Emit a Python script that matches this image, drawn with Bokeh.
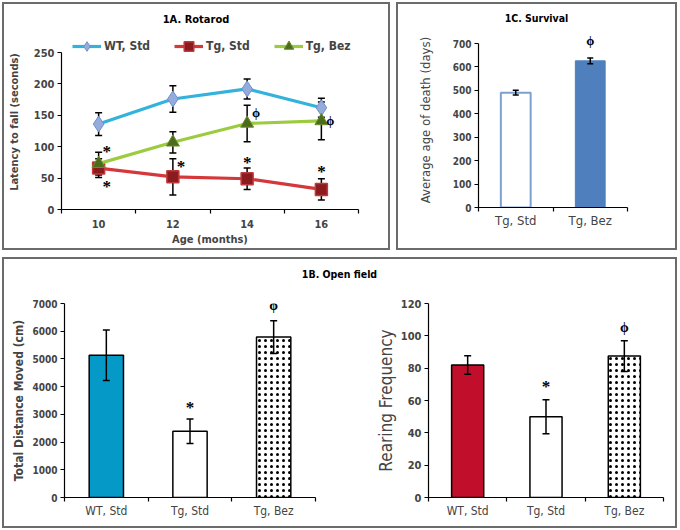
from bokeh.plotting import figure
from bokeh.models import (ColumnDataSource, Whisker, TeeHead, Legend, LegendItem,
                          FixedTicker, Range1d, LabelSet, Div)
from bokeh.layouts import row, column
from bokeh.embed import file_html
from bokeh.resources import INLINE

FONT = "DejaVu Sans Condensed, Liberation Sans, sans-serif"

# ---------------- data ----------------
# 1A Rotarod
ages = [10, 12, 14, 16]
wt_std = [136, 176, 192, 162]
wt_std_err = [18, 21, 16, 15]
tg_std = [66, 52, 49, 32]
tg_std_err = [15, 29, 17, 17]
tg_bez = [73, 107, 137, 141]
tg_bez_err = [18, 17, 29, 30]
rot_y_ticks = [0, 50, 100, 150, 200, 250]
rot_star_x = [10, 10, 12, 14, 16]
rot_star_y = [99, 43, 75, 81, 67]
rot_phi_x = [14, 16]
rot_phi_y = [155, 141]

# 1C Survival
surv_groups = ["Tg, Std", "Tg, Bez"]
surv_days = [490, 626]
surv_err = [10, 12]
surv_y_ticks = [0, 100, 200, 300, 400, 500, 600, 700]
surv_phi_y = [713]

# 1B Open field
of_groups = ["WT, Std", "Tg, Std", "Tg, Bez"]
dist = [5130, 2390, 5790]
dist_err = [910, 440, 590]
dist_y_ticks = [0, 1000, 2000, 3000, 4000, 5000, 6000, 7000]
dist_star_y = [3390]
dist_phi_y = [6940]
rearing = [82, 50, 87.5]
rearing_err = [5.7, 10.5, 9.5]
rear_y_ticks = [0, 20, 40, 60, 80, 100, 120]
rear_star_y = [71]
rear_phi_y = [105]

PHI = "\u03d5"
BORDER = {"border": "2px solid #6b6b6b"}


def style_axes(p, ylabel, ylabel_size="13px", ylabel_bold=True):
    for ax in (p.xaxis[0], p.yaxis[0]):
        ax.axis_line_color = "black"
        ax.axis_line_width = 1.2
        ax.major_label_text_font = FONT
        ax.axis_label_text_font = FONT
    p.yaxis.major_label_text_font_size = "11px"
    p.yaxis.major_label_text_font_style = "bold"
    p.yaxis.major_tick_in = 0
    p.yaxis.major_tick_out = 4
    p.yaxis.major_tick_line_width = 1.2
    p.yaxis.minor_tick_line_color = None
    p.yaxis.axis_label = ylabel
    p.yaxis.axis_label_text_font_size = ylabel_size
    p.yaxis.axis_label_text_font_style = "bold" if ylabel_bold else "normal"
    p.yaxis.major_label_standoff = 3
    p.xgrid.visible = False
    p.ygrid.visible = False
    p.outline_line_color = None
    p.background_fill_color = "white"
    p.border_fill_color = "white"


def cat_xaxis(p, labels, size="13px", bold=False, standoff=6):
    n = len(labels)
    centers = [i + 0.5 for i in range(n)]
    p.xaxis.ticker = FixedTicker(ticks=centers, minor_ticks=list(range(n + 1)))
    p.xaxis.major_label_overrides = {c: l for c, l in zip(centers, labels)}
    p.xaxis.major_tick_line_color = None
    p.xaxis.major_tick_in = 0
    p.xaxis.major_tick_out = 0
    p.xaxis.minor_tick_in = 0
    p.xaxis.minor_tick_out = 4
    p.xaxis.minor_tick_line_width = 1.2
    p.xaxis.major_label_text_font_size = size
    p.xaxis.major_label_text_font_style = "bold" if bold else "normal"
    p.xaxis.major_label_standoff = standoff
    return centers


def add_whisker(p, x, y, err, level="overlay", size=7):
    src = ColumnDataSource(dict(x=x, upper=[a + b for a, b in zip(y, err)],
                                lower=[a - b for a, b in zip(y, err)]))
    w = Whisker(source=src, base="x", upper="upper", lower="lower",
                line_color="black", line_width=1.5, level=level,
                upper_head=TeeHead(size=size, line_width=1.5, line_color="black"),
                lower_head=TeeHead(size=size, line_width=1.5, line_color="black"))
    p.add_layout(w)


def add_marks(p, x, y, text, size, x_offset=0, y_offset=0):
    src = ColumnDataSource(dict(x=x, y=y, t=[text] * len(x)))
    p.add_layout(LabelSet(x="x", y="y", text="t", source=src, x_offset=x_offset,
                          y_offset=y_offset, text_align="center", text_baseline="middle",
                          text_font=FONT, text_font_size=size, text_font_style="bold",
                          text_color="black"))


def title_div(text, width, height, size, line_height):
    return Div(text=text, width=width, height=height, margin=0,
               styles={"text-align": "center", "font-weight": "bold",
                       "font-size": size, "font-family": FONT,
                       "line-height": line_height, "color": "black"})


# ---------------- 1A Rotarod ----------------
A_FRAME_H, A_EXTRA = 157, 18
pA = figure(width=384, height=214, output_backend="svg", toolbar_location=None,
            x_range=Range1d(9, 17),
            y_range=Range1d(0, 250 * (A_FRAME_H + A_EXTRA) / A_FRAME_H), title=None,
            min_border_left=55, min_border_right=30, min_border_top=0, min_border_bottom=39)
style_axes(pA, "Latency to fall (seconds)", ylabel_size="11px")
pA.yaxis.ticker = FixedTicker(ticks=rot_y_ticks)
pA.yaxis.bounds = (0, 250)
pA.yaxis.major_label_text_font_size = "11px"
pA.yaxis.axis_label_standoff = 10
pA.xaxis.ticker = FixedTicker(ticks=ages, minor_ticks=[9, 11, 13, 15, 17])
pA.xaxis.major_tick_line_color = None
pA.xaxis.major_tick_in = 0
pA.xaxis.major_tick_out = 0
pA.xaxis.minor_tick_in = 0
pA.xaxis.minor_tick_out = 4
pA.xaxis.minor_tick_line_width = 1.2
pA.xaxis.major_label_text_font_size = "11px"
pA.xaxis.major_label_text_font_style = "bold"
pA.xaxis.major_label_standoff = 6
pA.xaxis.axis_label = "Age (months)"
pA.xaxis.axis_label_text_font_size = "11px"
pA.xaxis.axis_label_text_font_style = "bold"
pA.xaxis.axis_label_standoff = 2

add_whisker(pA, ages, wt_std, wt_std_err, level="underlay", size=7)
add_whisker(pA, ages, tg_std, tg_std_err, level="underlay", size=7)
add_whisker(pA, ages, tg_bez, tg_bez_err, level="underlay", size=7)

l1 = pA.line(ages, wt_std, line_color="#33b2dc", line_width=3.2)
m1 = pA.scatter(ages, wt_std, marker="diamond", size=16, fill_color="#93acdc",
                line_color="#6f8fcf", line_width=1)
l2 = pA.line(ages, tg_std, line_color="#d5383b", line_width=3.2)
m2 = pA.scatter(ages, tg_std, marker="square", size=12, fill_color="#8a1b1e",
                line_color="#c0393b", line_width=1.5)
l3 = pA.line(ages, tg_bez, line_color="#9dcb3f", line_width=3.2)
m3 = pA.scatter(ages, tg_bez, marker="triangle", size=13, fill_color="#4c6b1c",
                line_color="#6d8f2c", line_width=1)

add_marks(pA, rot_star_x[:3], rot_star_y[:3], "*", "17px", x_offset=8, y_offset=-4)
add_marks(pA, rot_star_x[3:], rot_star_y[3:], "*", "17px", x_offset=0, y_offset=-4)
add_marks(pA, rot_phi_x, rot_phi_y, PHI, "13px", x_offset=9)

LEG_H = 24
legA = Legend(items=[LegendItem(label="WT, Std", renderers=[l1, m1]),
                     LegendItem(label="Tg, Std", renderers=[l2, m2]),
                     LegendItem(label="Tg, Bez", renderers=[l3, m3])],
              orientation="horizontal", location=(11, A_FRAME_H + 6 - LEG_H // 2),
              border_line_color=None,
              background_fill_alpha=0, padding=0, margin=0, spacing=24,
              glyph_width=29, glyph_height=LEG_H, label_height=LEG_H, label_standoff=3,
              label_text_font=FONT, label_text_font_size="12px",
              label_text_font_style="bold")
pA.add_layout(legA, "center")
titleA = title_div("1A. Rotarod", 384, 30, "11px", "32px")

# ---------------- 1C Survival ----------------
C_FRAME_H, C_EXTRA = 164, 11
pC = figure(width=277, height=216, output_backend="svg", toolbar_location=None,
            x_range=Range1d(0, 2),
            y_range=Range1d(0, 700 * (C_FRAME_H + C_EXTRA) / C_FRAME_H),
            min_border_left=80, min_border_right=48, min_border_top=0, min_border_bottom=41)
style_axes(pC, "Average age of death (days)", ylabel_size="13px", ylabel_bold=False)
pC.yaxis.ticker = FixedTicker(ticks=surv_y_ticks)
pC.yaxis.bounds = (0, 700)
pC.yaxis.major_label_text_font_size = "10px"
pC.yaxis.axis_label_standoff = 17
cC = cat_xaxis(pC, surv_groups, size="13px", standoff=1)
pC.vbar(x=cC[:1], top=surv_days[:1], width=0.4, fill_color="white",
        line_color="#7ba0d2", line_width=2)
pC.vbar(x=cC[1:], top=surv_days[1:], width=0.4, fill_color="#4f7fbd",
        line_color="#4f7fbd", line_width=1)
add_whisker(pC, cC, surv_days, surv_err, size=6)
add_marks(pC, cC[1:], surv_phi_y, PHI, "13px")
titleC = title_div("1C. Survival", 277, 28, "10.5px", "28px")

# ---------------- 1B Open field ----------------
pB1 = figure(width=345, height=243, output_backend="svg", toolbar_location=None,
             x_range=Range1d(0, 3), y_range=Range1d(0, 7000),
             min_border_left=60, min_border_right=34, min_border_top=20, min_border_bottom=29)
style_axes(pB1, "Total Distance Moved (cm)", ylabel_size="12px", ylabel_bold=True)
pB1.yaxis.ticker = FixedTicker(ticks=dist_y_ticks)
pB1.yaxis.major_label_text_font_size = "10px"
pB1.yaxis.axis_label_standoff = 3
cB1 = cat_xaxis(pB1, of_groups, size="12px", standoff=2)
pB1.vbar(x=cB1[:1], top=dist[:1], width=0.41, fill_color="#0499c6",
         line_color="black", line_width=1.5)
pB1.vbar(x=cB1[1:2], top=dist[1:2], width=0.41, fill_color="white",
         line_color="black", line_width=1.5)
pB1.vbar(x=cB1[2:], top=dist[2:], width=0.41, fill_color="white",
         hatch_pattern="dot", hatch_color="black", hatch_scale=6, hatch_weight=0.5,
         line_color="black", line_width=1.5)
add_whisker(pB1, cB1, dist, dist_err)
add_marks(pB1, cB1[1:2], dist_star_y, "*", "17px", y_offset=-4)
add_marks(pB1, cB1[2:], dist_phi_y, PHI, "14px")

pB2 = figure(width=326, height=243, output_backend="svg", toolbar_location=None,
             x_range=Range1d(0, 3), y_range=Range1d(0, 120),
             min_border_left=79, min_border_right=12, min_border_top=18, min_border_bottom=28)
style_axes(pB2, "Rearing Frequency", ylabel_size="17px", ylabel_bold=False)
pB2.yaxis.ticker = FixedTicker(ticks=rear_y_ticks)
pB2.yaxis.major_label_text_font_size = "11px"
pB2.yaxis.axis_label_standoff = 2
cB2 = cat_xaxis(pB2, of_groups, size="12px", standoff=2)
pB2.vbar(x=cB2[:1], top=rearing[:1], width=0.41, fill_color="#c10f2b",
         line_color="black", line_width=1.5)
pB2.vbar(x=cB2[1:2], top=rearing[1:2], width=0.41, fill_color="white",
         line_color="black", line_width=1.5)
pB2.vbar(x=cB2[2:], top=rearing[2:], width=0.41, fill_color="white",
         hatch_pattern="dot", hatch_color="black", hatch_scale=6, hatch_weight=0.5,
         line_color="black", line_width=1.5)
add_whisker(pB2, cB2, rearing, rearing_err)
add_marks(pB2, cB2[1:2], rear_star_y, "*", "17px", y_offset=-4)
add_marks(pB2, cB2[2:], rear_phi_y, PHI, "14px")

titleB = title_div("1B. Open field", 671, 24, "10.5px", "30px")

top = row(column(titleA, pA, styles=BORDER), column(titleC, pC, styles=BORDER), spacing=6)
bottom = column(titleB, row(pB1, pB2), styles=BORDER)
layout = column(top, bottom, spacing=7, margin=(2, 0, 0, 2))

open("out.html", "w").write(file_html(layout, INLINE))
